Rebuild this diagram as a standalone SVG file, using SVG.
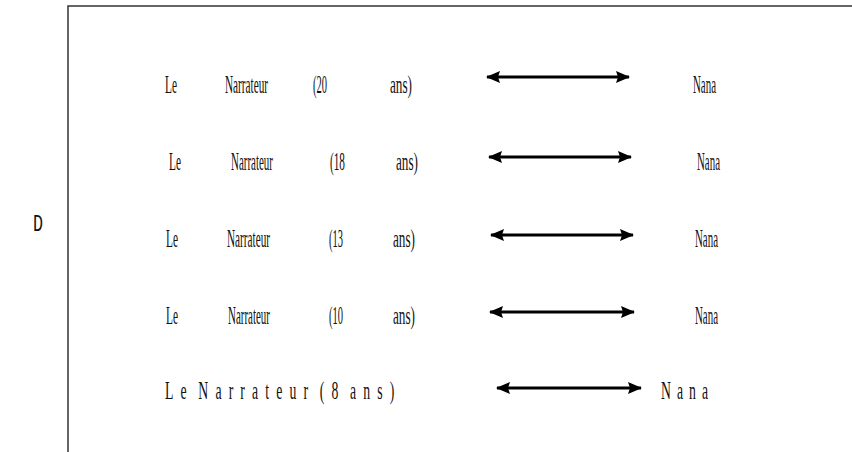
<svg xmlns="http://www.w3.org/2000/svg" width="852" height="452" viewBox="0 0 852 452">
<style>
.t{font-family:"Liberation Serif","Times New Roman",serif;font-size:25px;fill:#111}
.s{letter-spacing:13px;word-spacing:-11px}
.n{letter-spacing:11px}
.d{font-family:"Liberation Mono","DejaVu Sans Mono",monospace;font-size:24px;fill:#111}
.c{stroke:#000;stroke-width:2.8;fill:none}
.frame{stroke:#333;stroke-width:1.5;fill:none}
</style>
<defs>
<marker id="ah" viewBox="0 0 14 12" refX="13" refY="6" markerWidth="14" markerHeight="12" markerUnits="userSpaceOnUse" orient="auto-start-reverse">
<path d="M0,0 L14,6 L0,12 L2,6 Z" fill="#000"/>
</marker>
</defs>
<rect width="852" height="452" fill="#fff"/>
<path class="frame" d="M68,452 V6 H852"/>
<text class="d" x="33" y="231" textLength="10" lengthAdjust="spacingAndGlyphs">D</text>
<g id="row1">
<text class="t" transform="translate(165,93) scale(0.5,1)" textLength="24" lengthAdjust="spacingAndGlyphs">Le</text>
<text class="t" transform="translate(225,93) scale(0.5,1)" textLength="86" lengthAdjust="spacingAndGlyphs">Narrateur</text>
<text class="t" transform="translate(313,93) scale(0.5,1)" textLength="28" lengthAdjust="spacingAndGlyphs">(20</text>
<text class="t" transform="translate(390,93) scale(0.5,1)" textLength="44" lengthAdjust="spacingAndGlyphs">ans)</text>
<text class="t" transform="translate(693,93) scale(0.5,1)" textLength="46" lengthAdjust="spacingAndGlyphs">Nana</text>
</g>
<g id="row2">
<text class="t" transform="translate(169,170) scale(0.5,1)" textLength="24" lengthAdjust="spacingAndGlyphs">Le</text>
<text class="t" transform="translate(231,170) scale(0.5,1)" textLength="84" lengthAdjust="spacingAndGlyphs">Narrateur</text>
<text class="t" transform="translate(330,170) scale(0.5,1)" textLength="30" lengthAdjust="spacingAndGlyphs">(18</text>
<text class="t" transform="translate(396,170) scale(0.5,1)" textLength="44" lengthAdjust="spacingAndGlyphs">ans)</text>
<text class="t" transform="translate(697,170) scale(0.5,1)" textLength="46" lengthAdjust="spacingAndGlyphs">Nana</text>
</g>
<g id="row3">
<text class="t" transform="translate(166,247) scale(0.5,1)" textLength="24" lengthAdjust="spacingAndGlyphs">Le</text>
<text class="t" transform="translate(227,247) scale(0.5,1)" textLength="86" lengthAdjust="spacingAndGlyphs">Narrateur</text>
<text class="t" transform="translate(329,247) scale(0.5,1)" textLength="28" lengthAdjust="spacingAndGlyphs">(13</text>
<text class="t" transform="translate(393,247) scale(0.5,1)" textLength="44" lengthAdjust="spacingAndGlyphs">ans)</text>
<text class="t" transform="translate(695,247) scale(0.5,1)" textLength="46" lengthAdjust="spacingAndGlyphs">Nana</text>
</g>
<g id="row4">
<text class="t" transform="translate(166,324) scale(0.5,1)" textLength="24" lengthAdjust="spacingAndGlyphs">Le</text>
<text class="t" transform="translate(228,324) scale(0.5,1)" textLength="84" lengthAdjust="spacingAndGlyphs">Narrateur</text>
<text class="t" transform="translate(329,324) scale(0.5,1)" textLength="28" lengthAdjust="spacingAndGlyphs">(10</text>
<text class="t" transform="translate(393,324) scale(0.5,1)" textLength="44" lengthAdjust="spacingAndGlyphs">ans)</text>
<text class="t" transform="translate(695,324) scale(0.5,1)" textLength="46" lengthAdjust="spacingAndGlyphs">Nana</text>
</g>
<g id="row5">
<text class="t s" transform="translate(165,399) scale(0.55,1)">Le Narrateur (8 ans)</text>
<text class="t n" transform="translate(661,399) scale(0.55,1)">Nana</text>
</g>
<g id="connectors">
<line class="c" x1="487" y1="77" x2="629" y2="77" marker-start="url(#ah)" marker-end="url(#ah)"/>
<line class="c" x1="489" y1="157" x2="631" y2="157" marker-start="url(#ah)" marker-end="url(#ah)"/>
<line class="c" x1="491" y1="235" x2="633" y2="235" marker-start="url(#ah)" marker-end="url(#ah)"/>
<line class="c" x1="490" y1="312" x2="634" y2="312" marker-start="url(#ah)" marker-end="url(#ah)"/>
<line class="c" x1="497" y1="388" x2="641" y2="388" marker-start="url(#ah)" marker-end="url(#ah)"/>
</g>
</svg>
